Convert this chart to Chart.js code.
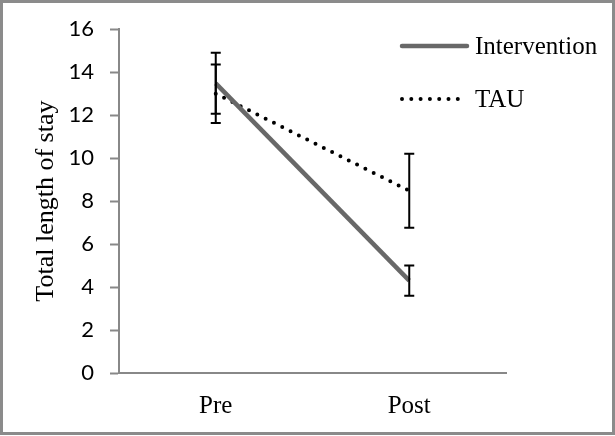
<!DOCTYPE html>
<html>
<head>
<meta charset="utf-8">
<script src="https://cdn.jsdelivr.net/npm/chart.js@4.4.1/dist/chart.umd.min.js"></script>
<style>
  html, body { margin: 0; padding: 0; background: #fff; }
  #chart { display: block; }
</style>
</head>
<body>
<canvas id="chart" width="615" height="436"></canvas>
<script>
const categories = ["Pre", "Post"];
const interventionMeans = [13.48, 4.3];
const interventionErrors = [1.42, 0.7];
const tauMeans = [13.0, 8.48];
const tauErrors = [1.36, 1.72];
const yTicks = [0, 2, 4, 6, 8, 10, 12, 14, 16];

const serif = "'Liberation Serif', 'Times New Roman', serif";
const axisGray = "#888888";

// white page with a gray frame
const frame = {
  id: "frame",
  beforeDraw(chart) {
    const ctx = chart.ctx;
    ctx.save();
    ctx.fillStyle = "#fff";
    ctx.fillRect(0, 0, chart.width, chart.height);
    ctx.strokeStyle = "#8b8b8b";
    ctx.lineWidth = 3;
    ctx.strokeRect(1.5, 1.5, chart.width - 3, chart.height - 4);
    ctx.restore();
  },
};

// vertical error bars with caps, drawn through the scales
const errorBars = {
  id: "errorBars",
  afterDatasetsDraw(chart) {
    const ctx = chart.ctx;
    const x = chart.scales.x;
    const y = chart.scales.y;
    ctx.save();
    ctx.strokeStyle = "#000";
    ctx.lineWidth = 2;
    chart.data.datasets.forEach((ds) => {
      ds.data.forEach((v, i) => {
        const px = x.getPixelForValue(i);
        const top = y.getPixelForValue(v + ds.errors[i]);
        const bot = y.getPixelForValue(v - ds.errors[i]);
        ctx.beginPath();
        ctx.moveTo(px, top);
        ctx.lineTo(px, bot);
        ctx.moveTo(px - 5, top);
        ctx.lineTo(px + 5, top);
        ctx.moveTo(px - 5, bot);
        ctx.lineTo(px + 5, bot);
        ctx.stroke();
      });
    });
    ctx.restore();
  },
};

// legend in the top right, line samples plus labels
const lineLegend = {
  id: "lineLegend",
  afterDraw(chart) {
    const ctx = chart.ctx;
    const rows = [46, 99];
    ctx.save();
    chart.data.datasets.forEach((ds, i) => {
      const yy = rows[i];
      ctx.beginPath();
      ctx.strokeStyle = ds.borderColor;
      ctx.lineWidth = ds.borderWidth;
      ctx.lineCap = "round";
      ctx.setLineDash(ds.borderDash || []);
      ctx.moveTo(402, yy);
      ctx.lineTo(467, yy);
      ctx.stroke();
      ctx.setLineDash([]);
      ctx.fillStyle = "#000";
      ctx.font = "25px " + serif;
      ctx.textBaseline = "alphabetic";
      ctx.fillText(ds.label, 475, yy + 8);
    });
    ctx.restore();
  },
};

new Chart(document.getElementById("chart"), {
  type: "line",
  plugins: [frame, errorBars, lineLegend],
  data: {
    labels: categories,
    datasets: [
      {
        label: "Intervention",
        data: interventionMeans,
        errors: interventionErrors,
        borderColor: "#686868",
        borderWidth: 4.5,
        pointRadius: 0,
        tension: 0,
      },
      {
        label: "TAU",
        data: tauMeans,
        errors: tauErrors,
        borderColor: "#000",
        borderWidth: 4,
        borderDash: [0, 9.3],
        borderCapStyle: "round",
        pointRadius: 0,
        tension: 0,
      },
    ],
  },
  options: {
    responsive: false,
    animation: false,
    layout: { padding: { top: 29, right: 109, bottom: 16, left: 0 } },
    plugins: {
      legend: { display: false },
      tooltip: { enabled: false },
    },
    scales: {
      x: {
        offset: true,
        afterFit: (axis) => {
          axis.height = 47;
        },
        grid: { display: false, drawTicks: false },
        border: { color: axisGray, width: 2 },
        ticks: {
          color: "#000",
          padding: 18,
          font: { family: serif, size: 25 },
        },
      },
      y: {
        min: 0,
        max: 16,
        afterBuildTicks: (axis) => {
          axis.ticks = yTicks.map((v) => ({ value: v }));
        },
        afterFit: (axis) => {
          axis.width = 119;
        },
        grid: {
          drawOnChartArea: false,
          tickLength: 9,
          tickWidth: 2,
          tickColor: axisGray,
        },
        border: { color: axisGray, width: 2 },
        ticks: {
          color: "#000",
          padding: 16,
          font: { family: "Lato, 'Open Sans', sans-serif", size: 22 },
        },
        title: {
          display: true,
          text: "Total length of stay",
          color: "#000",
          padding: { top: 31, bottom: 0 },
          font: { family: serif, size: 26 },
        },
      },
    },
  },
});
</script>
</body>
</html>
